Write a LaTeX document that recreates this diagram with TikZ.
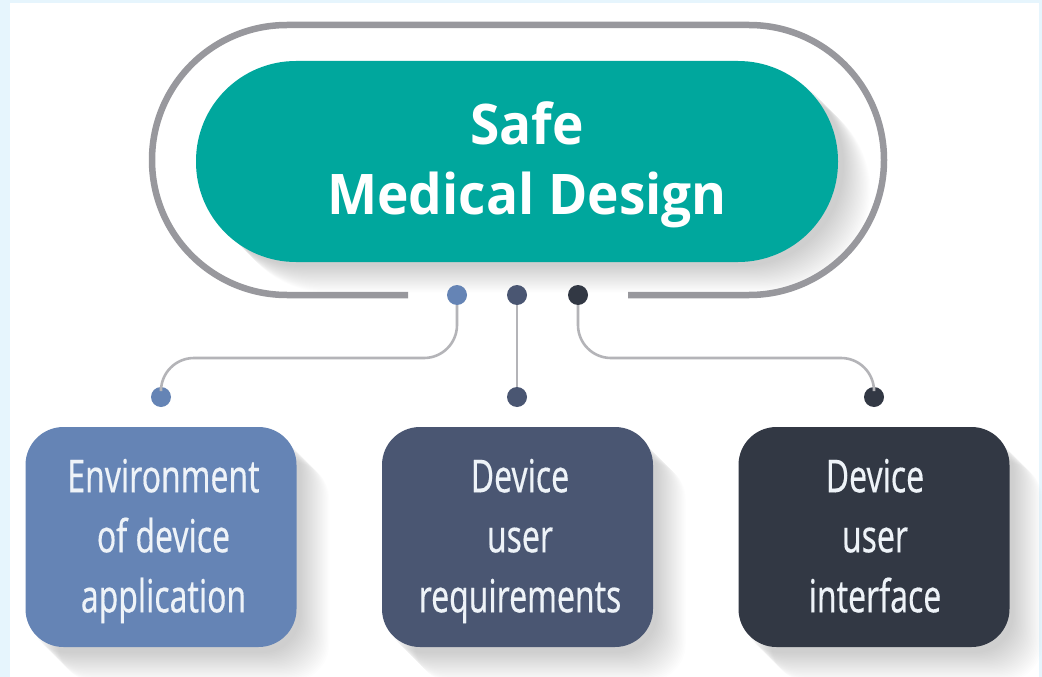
\documentclass[tikz,border=0pt]{standalone}
\usepackage{fontspec}
\setmainfont{Open Sans}
\newfontfamily\titlefont{Open Sans}[FakeStretch=0.95]
\newfontfamily\boxfont{Noto Sans}[FakeStretch=0.70,FakeBold=0.25]
\definecolor{bgblue}{HTML}{E6F5FD}
\definecolor{ringgrey}{HTML}{98989D}
\definecolor{conngrey}{HTML}{B4B4B8}
\definecolor{teal}{HTML}{00A79D}
\definecolor{cA}{HTML}{6584B5}
\definecolor{cB}{HTML}{4A5672}
\definecolor{cC}{HTML}{323844}
\definecolor{cardink}{HTML}{EEF3F8}
\tikzset{
  x=1pt,y=-1pt,
  pill/.style={fill=teal,rounded corners=100pt,draw=none},
  ring/.style={draw=ringgrey,line width=6.5pt},
  conn/.style={draw=conngrey,line width=2.6pt},
  dot/.style={circle,inner sep=0pt,minimum size=20pt,draw=none},
  card/.style={minimum width=271pt,minimum height=220pt,rounded corners=38pt,inner sep=0pt},
  cardtext/.style={text=cardink,inner sep=0pt,align=center,font=\boxfont\fontsize{45.5}{60}\selectfont},
  title/.style={text=white,align=center,font=\titlefont\bfseries\fontsize{56}{70}\selectfont}
}
\begin{document}
\begin{tikzpicture}
\useasboundingbox (0,0) rectangle (1042,677);
\fill[bgblue] (0,0) rectangle (1042,677);
\fill[white] (10,3) rectangle (1039,677);
% pill shadow, held inside the ring
\begin{scope}
  \clip[rounded corners=135pt] (152,25) rectangle (884,298);
  \foreach \i in {0,...,23}{
    \fill[black,opacity=0.009,rounded corners=100pt]
      ({196+6+\i*1.15},{61+4+\i*1.15}) rectangle ({838+6+\i*1.15},{262+4+\i*1.15});
  }
\end{scope}
% ring with gap
\draw[ring,rounded corners=135pt] (408,295) -- (152,295) -- (152,25) -- (884,25) -- (884,295) -- (628,295);
% pill
\fill[pill] (196,61) rectangle (838,262);
\node[title] (titlenode) at (527,165) {Safe\\Medical Design};
% card shadows
\foreach \cx in {161,517.5,874}{
  \foreach \i in {0,...,23}{
    \fill[black,opacity=0.0075,rounded corners=38pt]
      ({\cx-135.5+4+\i*1.25},{427+6+\i*1.25}) rectangle ({\cx+135.5+4+\i*1.25},{647+6+\i*1.25});
  }
}
\node[card,fill=cA] (envcard) at (161,537) {};
\node[card,fill=cB] (reqcard) at (517.5,537) {};
\node[card,fill=cC] (uicard) at (874,537) {};
\node[cardtext] (envtext) at (163.5,541) {Environment\\of device\\application\vphantom{p}};
\node[cardtext] (reqtext) at (520,541) {Device\\user\\requirements\vphantom{p}};
\node[cardtext] (uitext) at (875,541) {Device\\user\\interface\vphantom{p}};
% dots
\node[dot,fill=cA] (t1) at (457,295) {};
\node[dot,fill=cB] (t2) at (517,295) {};
\node[dot,fill=cC] (t3) at (578,295) {};
\node[dot,fill=cA] (b1) at (161,397) {};
\node[dot,fill=cB] (b2) at (517,397) {};
\node[dot,fill=cC] (b3) at (874,397) {};
\coordinate (lvl) at (0,358);
% connectors
\draw[conn,rounded corners=33pt] (t1.south) -- (t1 |- lvl) -- (b1 |- lvl) -- (b1.north);
\draw[conn] (t2) -- (b2);
\draw[conn,rounded corners=33pt] (t3.south) -- (t3 |- lvl) -- (b3 |- lvl) -- (b3.north);
\end{tikzpicture}
\end{document}
